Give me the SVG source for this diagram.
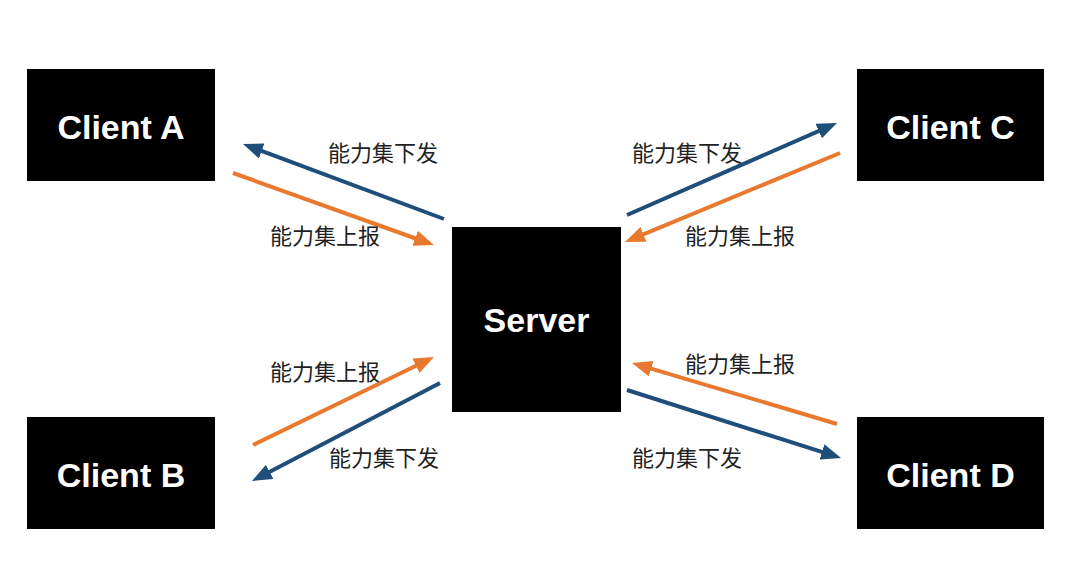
<svg xmlns="http://www.w3.org/2000/svg" width="1080" height="580" viewBox="0 0 1080 580">
<style>
.box{fill:#000}
.bt{fill:#fff;font-family:"Liberation Sans",Arial,sans-serif;font-weight:bold;font-size:34px;text-anchor:middle}
.lbl{fill:#222;font-family:"Noto Sans CJK SC","Noto Sans",sans-serif;font-size:22px}
.blue{stroke:#1f4e7a;stroke-width:4;fill:none;marker-end:url(#mb)}
.orange{stroke:#e8792e;stroke-width:4;fill:none;marker-end:url(#mo)}
</style>
<defs>
<marker id="mb" markerUnits="userSpaceOnUse" markerWidth="20" markerHeight="16" refX="8" refY="8" orient="auto"><path d="M0,0 L20,8 L0,16 z" fill="#1f4e7a"/></marker>
<marker id="mo" markerUnits="userSpaceOnUse" markerWidth="20" markerHeight="16" refX="8" refY="8" orient="auto"><path d="M0,0 L20,8 L0,16 z" fill="#e8792e"/></marker>
</defs>
<rect width="1080" height="580" fill="#fff"/>
<g id="client-a"><rect class="box" x="27" y="69" width="188" height="112"/><text class="bt" x="121" y="139">Client A</text></g>
<g id="client-c"><rect class="box" x="857" y="69" width="187" height="112"/><text class="bt" x="950.5" y="139">Client C</text></g>
<g id="client-b"><rect class="box" x="27" y="417" width="188" height="112"/><text class="bt" x="121" y="487">Client B</text></g>
<g id="client-d"><rect class="box" x="857" y="417" width="187" height="112"/><text class="bt" x="950.5" y="487">Client D</text></g>
<g id="server"><rect class="box" x="452" y="227" width="169" height="185"/><text class="bt" x="536.5" y="332">Server</text></g>
<g id="connectors">
<line class="blue" x1="444" y1="219" x2="254.2" y2="148.2"/>
<line class="orange" x1="233" y1="173" x2="422.7" y2="241"/>
<line class="blue" x1="627" y1="215" x2="826" y2="127.8"/>
<line class="orange" x1="840" y1="153" x2="636.1" y2="237.4"/>
<line class="orange" x1="253" y1="445" x2="423.2" y2="362.2"/>
<line class="blue" x1="440" y1="383" x2="262.6" y2="475.5"/>
<line class="orange" x1="837" y1="424" x2="643.5" y2="366.4"/>
<line class="blue" x1="627" y1="390" x2="829.6" y2="454.4"/>
</g>
<g id="labels">
<text class="lbl" x="328" y="161">能力集下发</text>
<text class="lbl" x="270" y="244">能力集上报</text>
<text class="lbl" x="632" y="161">能力集下发</text>
<text class="lbl" x="685" y="244">能力集上报</text>
<text class="lbl" x="270" y="380">能力集上报</text>
<text class="lbl" x="329" y="466">能力集下发</text>
<text class="lbl" x="685" y="372">能力集上报</text>
<text class="lbl" x="632" y="466">能力集下发</text>
</g>
</svg>
